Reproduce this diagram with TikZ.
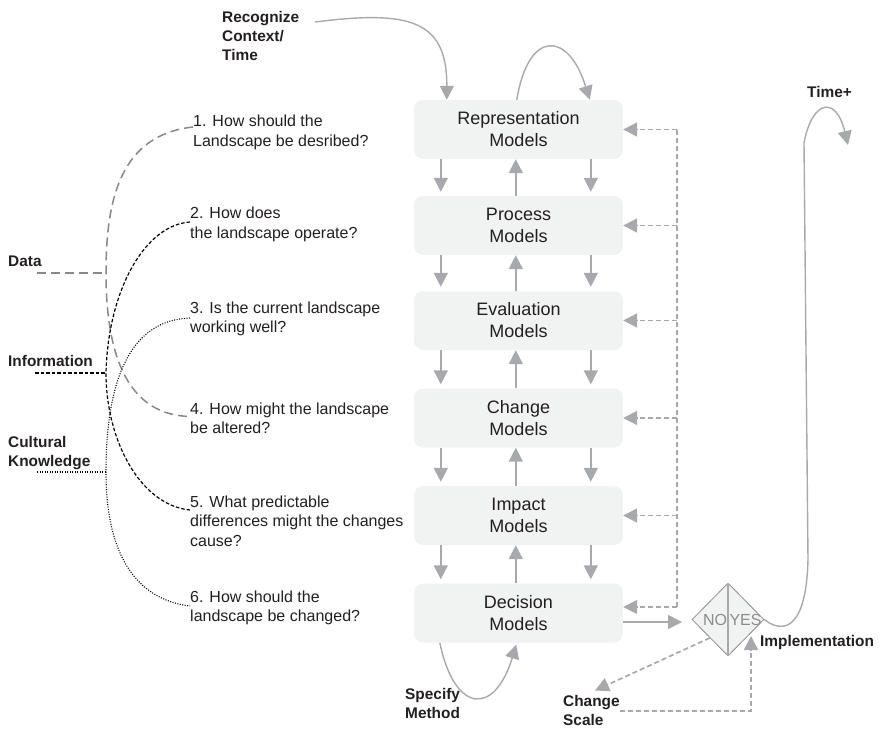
\documentclass[tikz,border=0pt]{standalone}
\usepackage{fontspec}
\setmainfont{Liberation Sans}
\usetikzlibrary{arrows.meta,shapes.geometric,calc}
\definecolor{boxfill}{HTML}{F1F2F2}
\definecolor{arrgray}{HTML}{A7A9AC}
\definecolor{txt}{HTML}{231F20}
\definecolor{dashgray}{HTML}{888888}
\definecolor{diagray}{HTML}{8C8C8C}
\begin{document}
\begin{tikzpicture}[x=1pt,y=-1pt,
  model/.style={fill=boxfill, rounded corners=9pt, minimum width=209pt, minimum height=59pt, align=center, text=txt, font=\fontsize{18}{22}\selectfont, inner sep=0pt},
  arr/.style={draw=arrgray, line width=1.7pt, -{Triangle[length=14pt,width=14pt]}},
  carr/.style={draw=arrgray, line width=1.4pt, -{Triangle[length=14pt,width=14pt]}},
  dline/.style={draw=arrgray, line width=1.7pt, dash pattern=on 5pt off 3pt},
  darr/.style={dline, -{Triangle[length=14pt,width=14pt]}},
  qtext/.style={align=left, anchor=north west, inner sep=0pt, text=txt, font=\fontsize{16}{19.5}\selectfont},
  lbl/.style={align=left, anchor=north west, inner sep=0pt, text=txt, font=\bfseries\fontsize{15.4}{19}\selectfont},
  gdash/.style={draw=dashgray, line width=1.5pt, dash pattern=on 9pt off 5pt},
  kdash/.style={draw=black, line width=1.2pt, dash pattern=on 3.5pt off 2pt},
  kdot/.style={draw=black, line width=1.1pt, dash pattern=on 1pt off 1.5pt}
]
\useasboundingbox (0,0) rectangle (880,729);

% model boxes
\node[model] (rep)  at (518.5,129.5) {Representation\\Models};
\node[model] (proc) at (518.5,225.5) {Process\\Models};
\node[model] (eval) at (518.5,320.5) {Evaluation\\Models};
\node[model] (chg)  at (518.5,418)   {Change\\Models};
\node[model] (imp)  at (518.5,515.5) {Impact\\Models};
\node[model] (dec)  at (518.5,613)   {Decision\\Models};

\foreach \a/\b in {rep/proc,proc/eval,eval/chg,chg/imp,imp/dec}{
  \draw[arr, shorten >=4pt] ([xshift=27pt]\a.south west) -- ([xshift=27pt]\b.north west);
  \draw[arr] ([xshift=102pt]\b.north west) -- ([xshift=102pt]\a.south west);
  \draw[arr, shorten >=4pt] ([xshift=177pt]\a.south west) -- ([xshift=177pt]\b.north west);
}

% loop above representation
\draw[carr] ([xshift=103pt]rep.north west) .. controls (528,30) and (568,30) .. ([xshift=176pt]rep.north west);

% recognize context
\node[lbl] (rec) at (222,11.5) {Recognize\\Context/\\Time};
\coordinate (recS) at (315,22);
\draw[carr] (recS) .. controls (410,10) and (447,20) .. ([xshift=33pt]rep.north west);

% feedback dashed
\coordinate (fbtop) at (677,130);
\coordinate (decfb) at ([yshift=6pt]dec.east);
\draw[dline] (fbtop) -- (decfb -| fbtop);
\foreach \n in {rep,proc,eval,chg,imp}{
  \draw[darr] (\n.east -| fbtop) -- (\n.east);
}
\draw[darr] (decfb -| fbtop) -- (decfb);

% diamond
\node[diamond, draw=diagray, fill=boxfill, minimum width=72pt, minimum height=73pt, inner sep=0pt, line width=0.8pt] (dia) at (728,619.5) {};
\draw[arrgray, line width=1.2pt] (dia.north) -- (dia.south);
\node[text=diagray, inner sep=0pt, font=\fontsize{16}{16}\selectfont] (no) at (715,620) {NO};
\node[text=diagray, inner sep=0pt, font=\fontsize{16}{16}\selectfont] (yes) at (745.5,620) {YES};

\coordinate (diaIn) at (682,622);
\draw[arr] (dec.east |- diaIn) -- (diaIn);

% time+
\node[lbl, anchor=center] (time) at (829.5,92) {Time+};
\draw[carr] (dia.east) .. controls (780,632) and (806,635) .. (808,560) -- (804,143) .. controls (812,100) and (836,95) .. (848,145);

% implementation / change scale
\node[lbl, anchor=west] (impl) at (760,643) {Implementation};
\node[lbl] (cs) at (563,695.5) {Change\\Scale};
\draw[darr] (dia.south west) -- ([xshift=32pt,yshift=5pt]cs.north west);
\coordinate (impIn) at (751,636);
\draw[darr] (cs.east) -| (impIn);

% specify method
\node[lbl] (spec) at (405,688.5) {Specify\\Method};
\draw[carr, shorten >=2pt] ([xshift=26pt]dec.south west) .. controls (455,715) and (495,715) .. ([xshift=103pt]dec.south west);

% questions
\node[qtext] (q1) at (193,115)   {1. How should the\\Landscape be desribed?};
\node[qtext] (q2) at (190,207)   {2. How does\\the landscape operate?};
\node[qtext] (q3) at (190,301.5) {3. Is the current landscape\\working well?};
\node[qtext] (q4) at (190,402.5) {4. How might the landscape\\be altered?};
\node[qtext] (q5) at (190,495.5) {5. What predictable\\differences might the changes\\cause?};
\node[qtext] (q6) at (190,590.5) {6. How should the\\landscape be changed?};

% left labels
\node[lbl] (data) at (8,255.5) {Data};
\node[lbl] (info) at (8,355) {Information};
\node[lbl] (cult) at (8,436.5) {Cultural\\Knowledge};

\coordinate (dJ) at (106,273);
\coordinate (iJ) at (106,373);
\coordinate (cJ) at (106,472);
\coordinate (dS) at (37,273);
\coordinate (iS) at (35,373);
\coordinate (cS) at (37,472);

\draw[gdash] (dS) -- (dJ);
\draw[gdash] ([yshift=-12pt]q1.north west) .. controls (120,135) and (106,200) .. (dJ)
   .. controls (106,360) and (130,415) .. ([yshift=-14pt]q4.north west);

\draw[kdash] (iS) -- (iJ);
\draw[kdash] ([yshift=-15pt]q2.north west) .. controls (145,225) and (108,290) .. (iJ)
   .. controls (106,440) and (140,505) .. ([yshift=-14.5pt]q5.north west);

\draw[kdot] (cS) -- (cJ);
\draw[kdot] ([yshift=-16.5pt]q3.north west) .. controls (130,320) and (106,380) .. (cJ)
   .. controls (106,560) and (140,600) .. ([yshift=-15.5pt]q6.north west);
\end{tikzpicture}
\end{document}
